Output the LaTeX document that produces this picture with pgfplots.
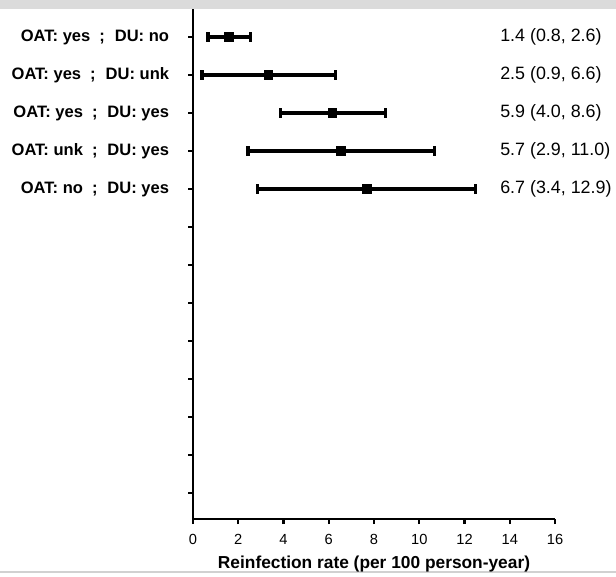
\documentclass[border=0pt]{standalone}
\usepackage{fontspec}
\setmainfont{Liberation Sans}
\usepackage{pgfplots}
\pgfplotsset{compat=1.18}

\begin{document}
\begin{tikzpicture}
\useasboundingbox (0,0) rectangle (462pt,432pt);
\fill[black!14] (0,425.25pt) rectangle (462pt,432pt);
\draw[black!18,line width=0.8pt] (0,3pt) -- (462pt,3pt);
\begin{axis}[
  at={(144.75pt,42.75pt)}, anchor=south west,
  scale only axis, width=271.5pt, height=382.5pt,
  xmin=0, xmax=16, xtick={0,2,...,16},
  ymin=0.263, ymax=13.684, y dir=reverse,
  ytick={1,...,13},
  yticklabels={{OAT: yes\hspace{0.55em};\hspace{0.6em}DU: no},
    {OAT: yes\hspace{0.55em};\hspace{0.6em}DU: unk},
    {OAT: yes\hspace{0.55em};\hspace{0.6em}DU: yes},
    {OAT: unk\hspace{0.55em};\hspace{0.6em}DU: yes},
    {OAT: no\hspace{0.55em};\hspace{0.6em}DU: yes},{},{},{},{},{},{},{},{}},
  axis x line=bottom, axis y line=left,
  axis line style={line width=1.6pt,-},
  tick align=outside, major tick length=3.75pt,
  tick style={line width=1.6pt,black},
  yticklabel style={font=\fontsize{12.4}{14}\selectfont\bfseries, inner sep=0pt, anchor=east, xshift=-14pt},
  xticklabel style={font=\fontsize{11}{13}\selectfont, yshift=-4pt},
  /pgf/number format/assume math mode=true,
  xlabel={\textbf{Reinfection rate (per 100 person-year)}},
  xlabel style={font=\fontsize{13}{15}\selectfont, yshift=-1.5pt},
  unbounded coords=jump,
  clip=false,
]
% confidence intervals (lower, upper), as drawn
\addplot[black, line width=2.6pt, mark=|, mark size=3.4pt,
  every mark/.append style={line width=2.6pt}] coordinates {
  (0.66,1) (2.54,1) (nan,nan)
  (0.40,2) (6.30,2) (nan,nan)
  (3.87,3) (8.51,3) (nan,nan)
  (2.43,4) (10.67,4) (nan,nan)
  (2.84,5) (12.49,5)};
% point estimates
\addplot[black, only marks, mark=square*, mark size=3.2pt,
  mark options={line width=0.4pt}] coordinates {
  (1.59,1) (3.32,2) (6.15,3) (6.52,4) (7.67,5)};
\begin{scope}[every node/.style={anchor=west, inner sep=0pt, font=\fontsize{13.4}{15}\selectfont}]
\node at (axis cs:13.57,1) {1.4 (0.8, 2.6)};
\node at (axis cs:13.57,2) {2.5 (0.9, 6.6)};
\node at (axis cs:13.57,3) {5.9 (4.0, 8.6)};
\node at (axis cs:13.57,4) {5.7 (2.9, 11.0)};
\node at (axis cs:13.57,5) {6.7 (3.4, 12.9)};
\end{scope}
\end{axis}
\end{tikzpicture}
\end{document}
